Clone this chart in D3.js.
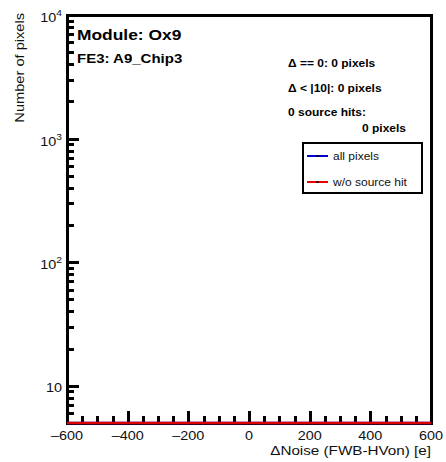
<!DOCTYPE html>
<html><head><meta charset="utf-8">
<script src="https://cdn.jsdelivr.net/npm/d3@7"></script>
<style>body{margin:0;background:#fff;} svg{display:block;font-family:"Liberation Sans",Arial,sans-serif;}</style>
</head><body>
<script>
// Data: histogram bin edges and contents (all bins empty)
const binEdges = d3.range(-600, 601, 10);
const allPixels = binEdges.slice(0, -1).map(() => 0);
const woSourceHit = binEdges.slice(0, -1).map(() => 0);
const xTicks = [-600, -400, -200, 0, 200, 400, 600];
const yDecades = [10, 100, 1000, 10000];
const statLines = ["\u0394 == 0: 0 pixels", "\u0394 < |10|: 0 pixels", "0 source hits:"];
const legendItems = [{label: "all pixels", color: "#0000cc"}, {label: "w/o source hit", color: "#ee0000"}];

const W = 446, H = 462;
const L = 67, R = 431, T = 15, B = 423;
const SX = 1.2; // horizontal text stretch of the reference rendering
const svg = d3.select("body").append("svg").attr("width", W).attr("height", H);
const x = d3.scaleLinear().domain([-600, 600]).range([L, R]);
const y = d3.scaleLog().domain([5, 10000]).range([B, T]).clamp(true);

function txt(parent, px, py, str, size, opts = {}) {
  const t = parent.append("text")
    .attr("transform", `translate(${px},${py})${opts.rot ? " rotate(" + opts.rot + ")" : ""} scale(${opts.sx || SX},1)`)
    .attr("font-size", size).attr("fill", opts.fill || "#111")
    .attr("text-anchor", opts.anchor || "start");
  if (opts.bold) t.attr("font-weight", "bold");
  t.text(str);
  return t;
}
function box(x0, y0, w, h, color) {
  svg.append("rect").attr("x", x0).attr("y", y0).attr("width", w).attr("height", h).attr("fill", color || "#000");
}

// frame (filled bars)
box(L - 1, T - 1, R - L + 3, 3);
box(L - 1, B - 1, R - L + 3, 3);
box(L - 1, T - 1, 3, B - T + 3);
box(R - 1, T - 1, 3, B - T + 3);

// x ticks
const xMinor = d3.range(-600, 601, 50);
xMinor.forEach(d => { const len = d % 200 === 0 ? 12 : 7; box(Math.round(x(d)) - 1, B - len, 3, len); });
xTicks.forEach(d => txt(svg, x(d), 440, d < 0 ? "\u2013" + Math.abs(d) : String(d), 12, {anchor: "middle"}));
txt(svg, R, 455, "\u0394Noise (FWB-HVon) [e]", 12.7, {anchor: "end"});

// y ticks
const yMinor = [];
[1, 10, 100, 1000].forEach(dec => { for (let k = 1; k <= 9; k++) { const v = dec * k; if (v >= 5 && v <= 10000) yMinor.push(v); } });
yMinor.push(10000);
yMinor.forEach(d => { const len = yDecades.includes(d) ? 12 : 7; box(L, Math.round(y(d)) - 1, len, 3); });
yDecades.forEach(d => {
  const e = Math.round(Math.log10(d));
  if (e === 1) { txt(svg, 62, y(d) + 6, "10", 12, {anchor: "end"}); }
  else {
    const t = txt(svg, 62, y(d) + 7, "", 12, {anchor: "end"});
    t.append("tspan").text("10");
    t.append("tspan").attr("dy", -6).attr("font-size", 8.5).text(e);
  }
});
txt(svg, 24, 13, "Number of pixels", 12.5, {anchor: "end", rot: -90, sx: 1.17});

// histograms (empty -> drawn at the bottom edge)
function histPath(vals) {
  const pts = [];
  vals.forEach((v, i) => {
    const yy = y(Math.max(v, 5));
    pts.push([x(binEdges[i]), yy], [x(binEdges[i + 1]), yy]);
  });
  return d3.line()(pts);
}
svg.append("path").attr("d", histPath(allPixels)).attr("fill", "none").attr("stroke", "#0000cc").attr("stroke-width", 2.7);
svg.append("path").attr("d", histPath(woSourceHit)).attr("fill", "none").attr("stroke", "#dd0000").attr("stroke-width", 2.7);

// annotations
txt(svg, 77, 40, "Module: Ox9", 14.5, {bold: true, fill: "#000"});
txt(svg, 77, 63, "FE3: A9_Chip3", 12.5, {bold: true, fill: "#000"});
statLines.forEach((s, i) => txt(svg, 288, [67, 92, 116][i], s, 10, {bold: true, fill: "#000"}));
txt(svg, 406, 132, "0 pixels", 10, {bold: true, fill: "#000", anchor: "end"});

// legend
box(302, 142, 121, 52);
box(304, 144, 117, 48, "#fff");
legendItems.forEach((d, i) => {
  const yy = 156 + i * 26;
  box(307, yy - 1, 21, 2, d.color);
  box(316.5, yy - 1, 2, 2, "#000");
  txt(svg, 333, yy + 4, d.label, 10);
});
</script>
</body></html>
